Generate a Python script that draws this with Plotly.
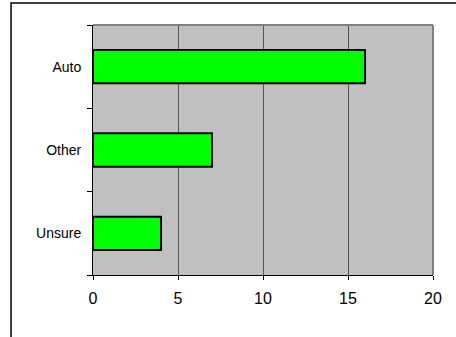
import plotly.graph_objects as go

categories = ["Auto", "Other", "Unsure"]
counts = [16, 7, 4]
x_ticks = [0, 5, 10, 15, 20]

fig = go.Figure()
fig.add_trace(go.Bar(
    y=categories,
    x=counts,
    orientation="h",
    width=0.4,
    marker=dict(color="#00ff00", line=dict(color="black", width=2)),
))

fig.update_layout(
    width=456,
    height=337,
    margin=dict(l=93, r=23, t=25, b=62),
    paper_bgcolor="white",
    plot_bgcolor="#c0c0c0",
    showlegend=False,
    font=dict(family="Liberation Sans, Arial, sans-serif", color="black"),
    xaxis=dict(
        range=[0, 20],
        tickvals=x_ticks,
        ticks="outside",
        ticklen=4,
        tickcolor="black",
        showline=True,
        linecolor="black",
        linewidth=1,
        showgrid=True,
        gridcolor="#555555",
        gridwidth=1,
        zeroline=False,
        tickfont=dict(size=16),
        ticklabelstandoff=5,
        fixedrange=True,
    ),
    yaxis=dict(
        categoryorder="array",
        categoryarray=categories[::-1],
        tickson="boundaries",
        ticks="outside",
        ticklen=5,
        tickcolor="black",
        showline=True,
        linecolor="black",
        linewidth=1,
        showgrid=False,
        zeroline=False,
        tickfont=dict(size=14),
        ticklabelstandoff=8,
        fixedrange=True,
    ),
    shapes=[
        # gray border on top and right of plot area
        dict(type="line", xref="x domain", yref="y domain", x0=0, x1=1, y0=1, y1=1,
             line=dict(color="#808080", width=2), layer="above"),
        dict(type="line", xref="x domain", yref="y domain", x0=1, x1=1, y0=0, y1=1,
             line=dict(color="#808080", width=2), layer="above"),
        # outer chart frame
        dict(type="rect", xref="paper", yref="paper", x0=-0.241, x1=1.2, y0=-0.4, y1=1.088,
             line=dict(color="black", width=1.5), layer="below"),
    ],
)

# drop the default page margin so the figure sits at the window corner
fig.write_html("out.html", config={"displayModeBar": False},
               post_script="document.body.style.margin='0';")
